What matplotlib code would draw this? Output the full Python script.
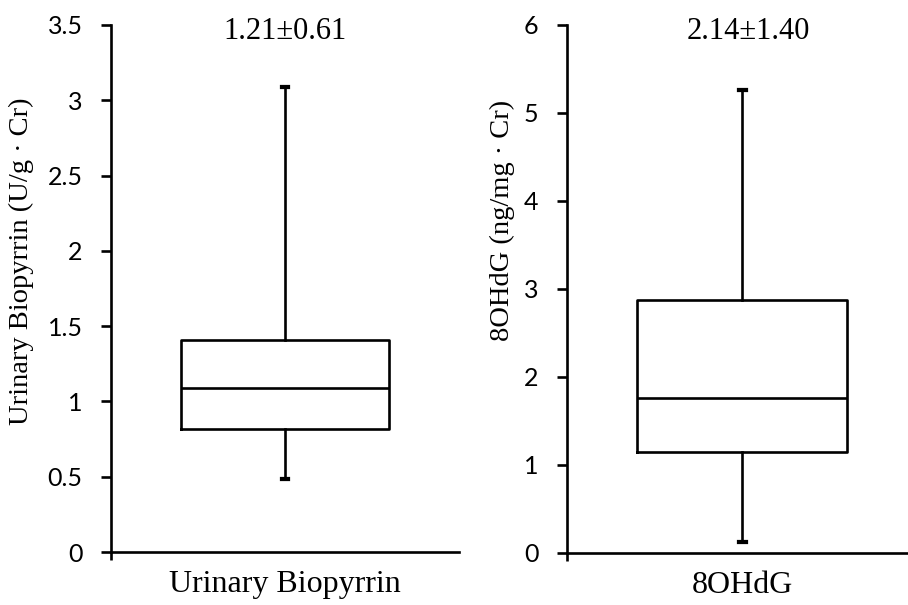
import matplotlib
matplotlib.use("Agg")
import matplotlib.pyplot as plt
from matplotlib.ticker import MultipleLocator, FixedLocator

# Data
categories = ["Urinary Biopyrrin", "8OHdG"]
ylabels = ["Urinary Biopyrrin (U/g \u00b7 Cr)", "8OHdG (ng/mg \u00b7 Cr)"]
summaries = ["1.21\u00b10.61", "2.14\u00b11.40"]
whislo = [0.485, 0.12]
q1 = [0.82, 1.15]
med = [1.09, 1.76]
q3 = [1.41, 2.88]
whishi = [3.09, 5.26]
ymax = [3.5, 6]
ystep = [0.5, 1]

SERIF = "Liberation Serif"
SANS = "Lato"
LW = 1.9

fig = plt.figure(figsize=(9.08, 6.05), dpi=100)
axes_rects = [
    [111 / 908, 1 - 552 / 605, 348 / 908, 527 / 605],
    [567 / 908, 1 - 553 / 605, 350 / 908, 528 / 605],
]
label_pos = [(-0.221, 0.552), (-0.149, 0.63)]
title_x = [0.5, 0.517]

for i, rect in enumerate(axes_rects):
    ax = fig.add_axes(rect)
    stats = [dict(whislo=whislo[i], q1=q1[i], med=med[i], q3=q3[i],
                  whishi=whishi[i], fliers=[], label=categories[i])]
    ax.bxp(stats, positions=[1], widths=0.6, showfliers=False,
           capwidths=0.02,
           boxprops=dict(color="black", linewidth=LW),
           medianprops=dict(color="black", linewidth=LW),
           whiskerprops=dict(color="black", linewidth=LW),
           capprops=dict(color="black", linewidth=LW * 1.6))
    ax.set_xlim(0.5, 1.5)
    ax.set_ylim(0, ymax[i])
    ax.yaxis.set_major_locator(MultipleLocator(ystep[i]))
    ax.set_yticklabels([f"{v:g}" for v in ax.get_yticks()])
    for lab in ax.get_yticklabels():
        lab.set_fontfamily(SANS)
        lab.set_fontsize(18)
    ax.tick_params(axis="y", direction="out", length=7, width=LW, pad=13.5)

    ax.set_xticks([1])
    ax.set_xticklabels([categories[i]], fontfamily=SERIF, fontsize=23)
    ax.tick_params(axis="x", which="major", length=0, pad=13)
    ax.xaxis.set_minor_locator(FixedLocator([0.5]))
    ax.tick_params(axis="x", which="minor", direction="out", length=6, width=LW)

    for s in ["top", "right"]:
        ax.spines[s].set_visible(False)
    for s in ["left", "bottom"]:
        ax.spines[s].set_linewidth(LW)
    ax.spines["bottom"].set_clip_on(False)

    ax.set_ylabel(ylabels[i], fontfamily=SERIF, fontsize=20.5)
    ax.yaxis.set_label_coords(*label_pos[i])

    ax.text(title_x[i], 0.987, summaries[i], transform=ax.transAxes,
            ha="center", va="center", fontfamily=SERIF, fontsize=22)

fig.savefig("out.png", dpi=100)
